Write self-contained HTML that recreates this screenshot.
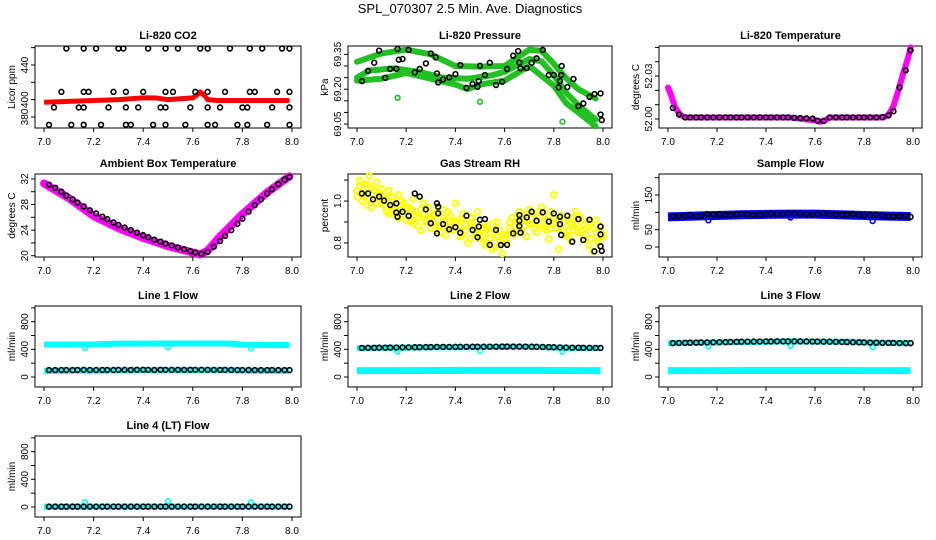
<!DOCTYPE html>
<html><head><meta charset="utf-8"><style>
html,body{margin:0;padding:0;background:#fff;}
svg{display:block;font-family:"Liberation Sans",sans-serif;}
</style></head><body>
<svg id="chart" width="936" height="540" viewBox="0 0 936 540" xmlns="http://www.w3.org/2000/svg">
<text x="470" y="13" font-size="13" text-anchor="middle">SPL_070307  2.5 Min. Ave. Diagnostics</text>
</svg>
<script>
// ---- data ----
const xTicks = [7.0,7.2,7.4,7.6,7.8,8.0];
const xTickLabels = ["7.0","7.2","7.4","7.6","7.8","8.0"];
const bt = [7.02,7.045,7.07,7.09,7.115,7.135,7.16,7.185,7.21,7.235,7.255,7.28,7.30,7.325,7.35,7.375,7.40,7.42,7.445,7.47,7.49,7.515,7.54,7.565,7.59,7.61,7.635,7.66,7.685,7.71,7.73,7.755,7.78,7.80,7.825,7.85,7.875,7.90,7.92,7.945,7.97,7.99];

const co2T = [7.09,7.16,7.21,7.30,7.32,7.42,7.49,7.54,7.63,7.66,7.75,7.83,7.88,7.96,7.99,
 7.07,7.16,7.18,7.28,7.33,7.40,7.49,7.52,7.61,7.66,7.73,7.83,7.85,7.94,7.99,
 7.04,7.14,7.16,7.26,7.33,7.38,7.47,7.49,7.59,7.66,7.71,7.80,7.82,7.92,7.99,
 7.02,7.11,7.16,7.23,7.33,7.35,7.44,7.49,7.57,7.66,7.69,7.78,7.82,7.90,7.99];
const co2V = [459,459,459,459,459,459,459,459,459,459,459,459,459,459,459,
 409,409,409,409,409,409,409,409,409,409,409,409,409,409,409,
 391,391,391,391,391,391,391,391,391,391,391,391,391,391,391,
 371,371,371,371,371,371,371,371,371,371,371,371,371,371,371];
const co2BandT = [7.0,7.1,7.2,7.3,7.4,7.45,7.5,7.55,7.6,7.62,7.63,7.65,7.66,7.7,7.8,7.9,7.99];
const co2BandV = [397,398,399,400,402,402,400,401,402,406,409,404,400,399,399,399,399];

const pBandT1 = [7.0,7.1,7.2,7.3,7.4,7.5,7.6,7.7,7.75,7.8,7.85,7.9,7.97];
const pBandV1 = [69.318,69.354,69.37,69.35,69.30,69.297,69.30,69.37,69.365,69.31,69.247,69.2,69.16];
const pBandT2 = [7.0,7.05,7.15,7.25,7.35,7.45,7.55,7.6,7.7,7.75,7.8,7.85,7.9,7.97];
const pBandV2 = [69.25,69.28,69.29,69.275,69.25,69.245,69.26,69.275,69.33,69.32,69.26,69.185,69.13,69.07];
const pBandT3 = [7.0,7.1,7.2,7.3,7.4,7.45,7.5,7.6,7.7,7.8,7.85,7.9,7.97];
const pBandV3 = [69.237,69.245,69.27,69.245,69.22,69.2,69.22,69.237,69.3,69.215,69.14,69.1,69.04];
const pT = [7.02,7.045,7.07,7.09,7.115,7.135,7.16,7.165,7.17,7.185,7.21,7.235,7.255,7.28,7.30,7.32,7.325,7.33,7.35,7.375,7.40,7.42,7.445,7.47,7.49,7.495,7.50,7.52,7.54,7.565,7.59,7.61,7.635,7.655,7.66,7.665,7.69,7.71,7.73,7.755,7.78,7.80,7.82,7.825,7.83,7.832,7.855,7.88,7.90,7.92,7.945,7.965,7.99,7.99,7.995];
const pV = [69.235,69.279,69.314,69.366,69.249,69.287,69.288,69.373,69.327,69.330,69.369,69.272,69.287,69.311,69.354,69.337,69.268,69.229,69.242,69.251,69.265,69.304,69.206,69.222,69.210,69.235,69.301,69.261,69.314,69.218,69.232,69.287,69.344,69.364,69.315,69.290,69.291,69.314,69.333,69.369,69.261,69.261,69.208,69.235,69.261,69.300,69.209,69.244,69.127,69.139,69.167,69.179,69.182,69.091,69.067];
const pOutT = [7.165,7.50,7.835];
const pOutV = [69.163,69.146,69.06];

const ltBandT = [7.0,7.01,7.02,7.03,7.05,7.07,7.5,7.55,7.6,7.62,7.64,7.66,7.88,7.9,7.92,7.94,7.96,7.98,7.99];
const ltBandV = [52.022,52.018,52.013,52.008,52.003,52.001,52.001,52.0,51.999,51.998,51.999,52.001,52.001,52.003,52.009,52.02,52.032,52.043,52.05];
const ltV = [52.0077,52.0031,52.0011,52.0011,52.0011,52.0011,52.0011,52.0011,52.0011,52.0011,52.0011,52.0011,52.0011,52.0011,52.0011,52.0011,52.0011,52.0011,52.0011,52.0011,52.0011,52.0008,52.0006,52.0005,52.0003,51.9988,51.9986,52.0011,52.0011,52.0011,52.0011,52.0011,52.0011,52.0011,52.0011,52.0011,52.0013,52.0025,52.0054,52.022,52.034,52.048];

const ambBandT = [7.0,7.1,7.2,7.3,7.4,7.5,7.6,7.63,7.66,7.7,7.8,7.9,7.99];
const ambBandV = [31.3,29.0,26.2,24.3,22.8,21.5,20.5,20.2,20.8,22.6,26.5,29.9,32.4];
const ambV = [31.1,30.6,30.0,29.4,28.8,28.3,27.7,27.1,26.6,26.1,25.7,25.2,24.8,24.4,24.0,23.6,23.2,22.9,22.5,22.2,21.9,21.6,21.3,21.0,20.7,20.5,20.3,20.6,21.4,22.3,23.1,24.0,25.0,25.8,26.9,27.9,28.8,29.7,30.4,31.2,31.9,32.3];

const rhYT = [7.00,7.01,7.02,7.03,7.04,7.05,7.06,7.07,7.08,7.09,7.10,7.11,7.12,7.13,7.14,7.15,7.16,7.17,7.18,7.19,7.20,7.21,7.22,7.23,7.24,7.25,7.26,7.27,7.28,7.29,7.30,7.31,7.32,7.33,7.34,7.35,7.36,7.37,7.38,7.39,7.40,7.41,7.42,7.43,7.44,7.45,7.46,7.47,7.48,7.49,7.50,7.51,7.52,7.53,7.54,7.55,7.56,7.57,7.58,7.59,7.60,7.61,7.62,7.63,7.64,7.65,7.66,7.67,7.68,7.69,7.70,7.71,7.72,7.73,7.74,7.75,7.76,7.77,7.78,7.79,7.80,7.81,7.82,7.83,7.84,7.85,7.86,7.87,7.88,7.89,7.90,7.91,7.92,7.93,7.94,7.95,7.96,7.97,7.98,7.99,8.00];
const rhYV = [1.05,1.10,1.03,1.08,0.98,1.12,1.06,1.01,1.09,1.04,0.99,
 1.02,0.95,1.05,0.97,1.00,0.93,1.03,0.96,0.99,0.91,
 0.97,0.90,1.01,0.93,0.88,0.96,0.99,0.91,0.95,0.87,
 0.93,0.86,0.97,0.89,0.92,0.84,0.95,0.88,0.91,0.99,
 0.90,0.83,0.94,0.86,0.80,0.89,0.92,0.85,0.95,0.82,
 0.86,0.79,0.88,0.82,0.77,0.85,0.90,0.81,0.75,0.84,
 0.80,0.87,0.92,0.84,0.90,0.95,0.86,0.91,0.83,0.96,
 0.89,0.94,0.85,0.92,0.97,0.87,0.91,0.82,0.95,1.03,
 0.90,0.77,0.93,0.86,0.84,0.91,0.81,0.88,0.95,0.85,
 0.92,0.82,0.87,0.79,0.90,0.76,0.85,0.81,0.88,0.83];
const rhYV2 = [1.02,1.07,1.00,1.04,1.08,1.01,0.97,1.05,0.99,1.03,1.06,
 0.98,1.01,0.94,1.02,0.96,0.99,0.92,1.00,0.94,0.97,
 0.93,0.96,0.89,0.95,0.92,0.86,0.94,0.90,0.97,0.92,
 0.90,0.94,0.88,0.85,0.96,0.91,0.87,0.93,0.86,0.90,
 0.87,0.91,0.84,0.89,0.93,0.82,0.88,0.90,0.84,0.88,
 0.83,0.87,0.80,0.85,0.89,0.78,0.83,0.86,0.80,0.82,
 0.84,0.90,0.85,0.88,0.93,0.87,0.92,0.88,0.94,0.89,
 0.92,0.87,0.90,0.95,0.88,0.93,0.86,0.90,0.87,0.92,
 0.87,0.91,0.84,0.90,0.88,0.83,0.92,0.86,0.89,0.93,
 0.86,0.89,0.84,0.88,0.82,0.87,0.91,0.80,0.86,0.84];
const rhT = [7.02,7.045,7.065,7.09,7.11,7.135,7.16,7.16,7.165,7.185,7.21,7.235,7.255,7.28,7.30,7.325,7.325,7.33,7.33,7.35,7.375,7.40,7.42,7.445,7.47,7.49,7.495,7.50,7.52,7.54,7.565,7.585,7.61,7.635,7.66,7.66,7.66,7.665,7.69,7.71,7.73,7.755,7.78,7.80,7.825,7.825,7.83,7.855,7.875,7.90,7.92,7.945,7.965,7.99,7.99,7.99,7.995];
const rhV = [1.036,1.036,1.008,1.021,1.002,0.981,0.989,0.945,0.925,0.949,0.929,1.036,1.021,0.960,0.894,0.846,0.989,0.973,0.941,0.890,0.865,0.875,0.849,0.930,0.862,0.827,0.878,0.911,0.914,0.791,0.862,0.790,0.791,0.846,0.933,0.906,0.881,0.849,0.922,0.949,0.906,0.946,0.902,0.941,0.925,0.890,0.838,0.930,0.806,0.914,0.814,0.911,0.760,0.878,0.841,0.784,0.762];

const sfBandT = [7.0,7.1,7.2,7.3,7.4,7.5,7.6,7.7,7.8,7.9,7.99];
const sfBandV = [87,89,91,93,94,95,95,93,91,89,88];
const sfV = [88,89,90,92,89,90,95,94,95,92,93,94,96,95,93,94,95,96,95,96,97,97,96,95,95,96,97,95,94,93,94,95,92,91,92,93,91,88,88,89,90,87];
const sfOutT = [7.165,7.50,7.835];
const sfOutV = [77,85,75];

const bandT = [7.0,7.2,7.3,7.5,7.6,7.75,7.8,7.9,7.99];
const l1Top = [470,472,482,485,485,485,468,462,460];
const l1Low = [90,92,95,98,98,97,92,90,90];
const l1V = [100,100,101,101,100,102,103,101,101,102,102,101,103,103,102,104,104,103,102,104,104,103,104,103,104,104,104,103,103,102,103,102,101,101,101,100,100,100,101,100,100,100];
const l2Top = [420,425,430,432,438,436,425,420,418];
const l2Low = [92,92,93,95,96,95,93,92,92];
const l2V = [420,421,422,423,424,425,426,428,428,430,431,432,433,434,435,435,436,436,437,438,438,438,439,439,440,440,440,440,439,438,436,434,432,430,428,426,424,423,422,421,420,420];
const l3Top = [490,498,505,515,512,510,500,492,488];
const l3Low = [92,92,93,94,94,93,92,92,92];
const l3V = [490,492,494,496,497,499,500,502,504,505,507,508,510,511,512,513,514,514,515,515,515,515,515,514,513,512,511,510,508,507,505,503,501,500,498,496,494,493,492,491,490,490];
const l4Top = [4,5,5,6,6,5,5,5,5];
const l4V = [5,5,5,5,5,5,5,5,5,5,5,5,5,5,5,5,5,5,5,5,5,5,5,5,5,5,5,5,5,5,5,5,5,5,5,5,5,5,5,5,5,5];
const lineOutT = [7.165,7.50,7.835];
const l1Out = [420,430,415];
const l2Out = [370,375,365];
const l3Out = [440,450,430];
const l4Out = [70,85,65];

// ---- drawing ----
const NS = "http://www.w3.org/2000/svg";
const svg = document.getElementById('chart');
function mk(tag, parent){ const e=document.createElementNS(NS,tag); parent.appendChild(e); return e; }
const cols = [{l:35,r:301},{l:348,r:612},{l:659,r:922}];
const rows = [{t:46,b:128},{t:174,b:257},{t:306,b:387},{t:436,b:517}];

function panel(col,row,title,ylab,ymin,ymax,yticks,ylabels,name){
  const c=cols[col], r=rows[row];
  const g=mk('g',svg);
  
  
  const xs = v => (c.l + (c.r-c.l)*0.034) + (v-7.0)/1.0*((c.r-c.l)*0.932);
  const ys = v => r.b - (v-ymin)/(ymax-ymin)*(r.b-r.t);
  const box=mk('rect',g);
  
  
  box.setAttribute('x',c.l); box.setAttribute('y',r.t); box.setAttribute('width',c.r-c.l); box.setAttribute('height',r.b-r.t);
  box.setAttribute('fill','none'); box.setAttribute('stroke','#000');
  const tt=mk('text',g);
  
  
  tt.setAttribute('x',(c.l+c.r)/2); tt.setAttribute('y',r.t-7); tt.setAttribute('text-anchor','middle');
  tt.setAttribute('font-size','11'); tt.setAttribute('font-weight','bold'); tt.textContent=title;
  const xa=mk('g',g);
  
  
  xTicks.forEach((v,i)=>{
    const x=xs(v);
    const ln=mk('line',xa); ln.setAttribute('x1',x); ln.setAttribute('x2',x); ln.setAttribute('y1',r.b); ln.setAttribute('y2',r.b+4); ln.setAttribute('stroke','#000');
    const t=mk('text',xa);
    
    
    t.setAttribute('x',x); t.setAttribute('y',r.b+17); t.setAttribute('text-anchor','middle'); t.setAttribute('font-size','10'); t.textContent=xTickLabels[i];
  });
  const ya=mk('g',g);
  
  
  yticks.forEach(v=>{
    const y=ys(v);
    const ln=mk('line',ya); ln.setAttribute('x1',c.l-4); ln.setAttribute('x2',c.l); ln.setAttribute('y1',y); ln.setAttribute('y2',y); ln.setAttribute('stroke','#000');
  });
  ylabels.forEach(p=>{
    const y=ys(p[0]);
    const t=mk('text',ya);
    
    
    t.setAttribute('transform','translate('+(c.l-7)+','+y+') rotate(-90)'); t.setAttribute('text-anchor','middle'); t.setAttribute('font-size','10'); t.textContent=p[1];
  });
  const yl=mk('text',g);
  
  
  yl.setAttribute('transform','translate('+(c.l-20)+','+((r.t+r.b)/2)+') rotate(-90)'); yl.setAttribute('text-anchor','middle'); yl.setAttribute('font-size','10'); yl.textContent=ylab;
  return {g,xs,ys};
}
function band(p,T,V,color,w,name,cap){
  const pl=mk('polyline',p.g);
  
  
  pl.setAttribute('points',T.map((t,i)=>p.xs(t)+','+p.ys(V[i])).join(' '));
  pl.setAttribute('fill','none'); pl.setAttribute('stroke',color); pl.setAttribute('stroke-width',w);
  pl.setAttribute('stroke-linejoin','round'); pl.setAttribute('stroke-linecap',cap||'round');
}
function pts(p,T,V,color,name,sw,rad){
  const gg=mk('g',p.g);
  
  
  T.forEach((t,i)=>{
    const ci=mk('circle',gg);
    
    
    ci.setAttribute('cx',p.xs(t)); ci.setAttribute('cy',p.ys(V[i])); ci.setAttribute('r',rad||2.4);
    ci.setAttribute('fill','none'); ci.setAttribute('stroke',color); ci.setAttribute('stroke-width',sw||1.6);
  });
}

let p;
p=panel(0,0,'Li-820 CO2','Licor ppm',367.3,461.9,[380,400,420,440,460],[[380,'380'],[400,'400'],[440,'440']],'co2');
band(p,co2BandT,co2BandV,'#ff0000',5,'co2-red-series','butt');
pts(p,co2T,co2V,'#000','co2-black-points');

p=panel(1,0,'Li-820 Pressure','kPa',69.033,69.386,[69.05,69.10,69.15,69.20,69.25,69.30,69.35],[[69.35,'69.35'],[69.20,'69.20'],[69.05,'69.05']],'pressure');
band(p,pBandT1,pBandV1,'#22c022',6,'pressure-green-band-1');
band(p,pBandT2,pBandV2,'#22c022',6,'pressure-green-band-2');
band(p,pBandT3,pBandV3,'#22c022',6,'pressure-green-band-3');
pts(p,pOutT,pOutV,'#22c022','pressure-green-outliers');
pts(p,pT,pV,'#000','pressure-black-points');

p=panel(2,0,'Li-820 Temperature','degrees C',51.9937,52.051,[52.00,52.01,52.02,52.03,52.04,52.05],[[52.00,'52.00'],[52.03,'52.03']],'li-temp');
band(p,ltBandT,ltBandV,'#ff00ff',6,'li-temp-magenta-series');
pts(p,bt,ltV,'#000','li-temp-black-points');

p=panel(0,1,'Ambient Box Temperature','degrees C',19.8,32.77,[20,22,24,26,28,30,32],[[20,'20'],[24,'24'],[28,'28'],[32,'32']],'ambient');
band(p,ambBandT,ambBandV,'#ff00ff',8,'ambient-magenta-series');
pts(p,bt,ambV,'#000','ambient-black-points');

p=panel(1,1,'Gas Stream RH','percent',0.733,1.129,[0.8,0.9,1.0,1.1],[[0.8,'0.8'],[1.0,'1.0']],'rh');
pts(p,rhYT,rhYV,'#ffff00','rh-yellow-points',2,2.8);
pts(p,rhYT,rhYV2,'#ffff00','rh-yellow-points-2',2,2.8);
pts(p,rhT,rhV,'#000','rh-black-points');

p=panel(2,1,'Sample Flow','ml/min',-28.8,210.6,[0,50,100,150,200],[[0,'0'],[50,'50'],[150,'150']],'sample-flow');
band(p,sfBandT,sfBandV,'#0000ff',9,'sample-flow-blue-series','butt');
pts(p,sfOutT,sfOutV,'#0000ff','sample-flow-blue-outliers');
pts(p,bt,sfV,'#000','sample-flow-black-points');

const lt=[0,200,400,600,800,1000], ll=[[0,'0'],[400,'400'],[800,'800']];
p=panel(0,2,'Line 1 Flow','ml/min',-145,1027,lt,ll,'line1');
band(p,bandT,l1Top,'#00ffff',6,'line1-cyan-upper','butt');
band(p,bandT,l1Low,'#00ffff',6,'line1-cyan-lower','butt');
pts(p,lineOutT,l1Out,'#00ffff','line1-cyan-outliers');
pts(p,bt,l1V,'#000','line1-black-points');

p=panel(1,2,'Line 2 Flow','ml/min',-145,1027,lt,ll,'line2');
band(p,bandT,l2Top,'#00ffff',6,'line2-cyan-upper','butt');
band(p,bandT,l2Low,'#00ffff',7,'line2-cyan-lower','butt');
pts(p,lineOutT,l2Out,'#00ffff','line2-cyan-outliers');
pts(p,bt,l2V,'#000','line2-black-points');

p=panel(2,2,'Line 3 Flow','ml/min',-145,1027,lt,ll,'line3');
band(p,bandT,l3Top,'#00ffff',6,'line3-cyan-upper','butt');
band(p,bandT,l3Low,'#00ffff',7,'line3-cyan-lower','butt');
pts(p,lineOutT,l3Out,'#00ffff','line3-cyan-outliers');
pts(p,bt,l3V,'#000','line3-black-points');

p=panel(0,3,'Line 4 (LT) Flow','ml/min',-145,1027,lt,ll,'line4');
band(p,bandT,l4Top,'#00ffff',6,'line4-cyan-series','butt');
pts(p,lineOutT,l4Out,'#00ffff','line4-cyan-outliers');
pts(p,bt,l4V,'#000','line4-black-points');
</script>
</body></html>
